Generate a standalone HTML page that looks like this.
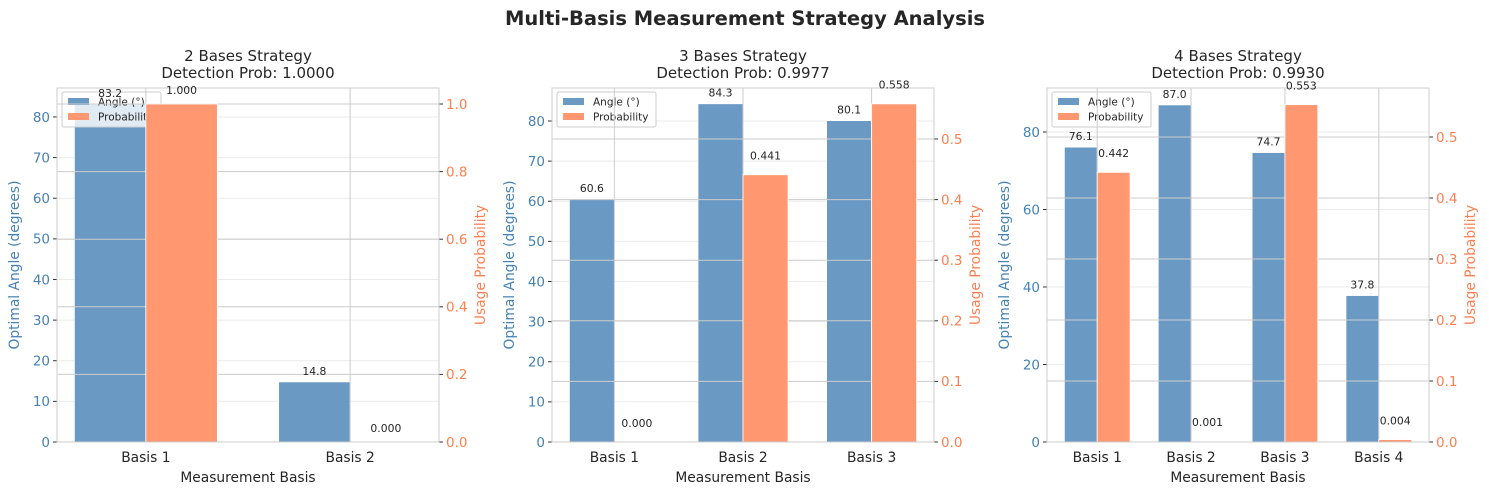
<!DOCTYPE html>
<html><head><meta charset="utf-8"><style>
html,body{margin:0;padding:0;background:#fff;}
svg{display:block;font-family:"DejaVu Sans","Liberation Sans",sans-serif;}
</style></head><body>
<svg id="s" width="1489" height="495" viewBox="0 0 1489 495" xmlns="http://www.w3.org/2000/svg">
<text x="745" y="25" text-anchor="middle" font-size="19.5" font-weight="bold" fill="#262626">Multi-Basis Measurement Strategy Analysis</text>
</svg>
<script>
const S=document.getElementById('s');let h='';
const panels=[
 {x0:57,x1:439,n:2,ang:[83.2,14.8],pr:[1.0,0.0],t1:'2 Bases Strategy',t2:'Detection Prob: 1.0000',lt:[0,10,20,30,40,50,60,70,80],lpu:4.063,rt:[0,0.2,0.4,0.6,0.8,1.0],rpu:338},
 {x0:552,x1:934,n:3,ang:[60.6,84.3,80.1],pr:[0.0,0.441,0.558],t1:'3 Bases Strategy',t2:'Detection Prob: 0.9977',lt:[0,10,20,30,40,50,60,70,80],lpu:4.0125,rt:[0,0.1,0.2,0.3,0.4,0.5],rpu:606},
 {x0:1047,x1:1429,n:4,ang:[76.1,87.0,74.7,37.8],pr:[0.442,0.001,0.553,0.004],t1:'4 Bases Strategy',t2:'Detection Prob: 0.9930',lt:[0,20,40,60,80],lpu:3.875,rt:[0,0.1,0.2,0.3,0.4,0.5],rpu:610}
];
const T=88,B=442;
for(const p of panels){
 const span=(p.n-1+0.7)*1.1;
 const ux=(p.x1-p.x0)/span, X=v=>p.x0+(v-(-0.35-(p.n-1+0.7)*0.05))*ux;
 const bw=0.35*ux;
 const yl=v=>B-v*p.lpu, yr=v=>B-v*p.rpu;
 const cx=(p.x0+p.x1)/2;
 h+=`<text x="${cx}" y="61" text-anchor="middle" font-size="15" fill="#262626">${p.t1}</text>`;
 h+=`<text x="${cx}" y="78" text-anchor="middle" font-size="15" fill="#262626">${p.t2}</text>`;
 for(const t of p.lt){h+=`<line x1="${p.x0}" x2="${p.x1}" y1="${yl(t)}" y2="${yl(t)}" stroke="#ebebeb" stroke-width="1"/>`;
  h+=`<line x1="${p.x0-4}" x2="${p.x0}" y1="${yl(t)}" y2="${yl(t)}" stroke="#333" stroke-width="1"/>`;
  h+=`<text x="${p.x0-7}" y="${yl(t)+4.8}" text-anchor="end" font-size="13.5" fill="#4682b4">${t}</text>`;}
 for(let i=0;i<p.n;i++){const a=p.ang[i];h+=`<rect x="${X(i)-bw}" y="${yl(a)}" width="${bw}" height="${a*p.lpu}" fill="#6a9ac4" stroke="#fff" stroke-width="0.8"/>`;}
 h+=`<rect x="${p.x0+5}" y="92" width="99" height="35" rx="2" fill="#fff" fill-opacity="0.8" stroke="#ccc"/>`;
 h+=`<rect x="${p.x0+11}" y="98" width="21" height="7" fill="#6a9ac4"/><text x="${p.x0+41}" y="105.5" font-size="10.5" fill="#262626">Angle (°)</text>`;
 h+=`<rect x="${p.x0+11}" y="113" width="21" height="7" fill="#ff9870"/><text x="${p.x0+41}" y="120.5" font-size="10.5" fill="#262626">Probability</text>`;
 for(const t of p.rt){h+=`<line x1="${p.x0}" x2="${p.x1}" y1="${yr(t)}" y2="${yr(t)}" stroke="#cccccc" stroke-width="1"/>`;
  h+=`<line x1="${p.x1}" x2="${p.x1+4}" y1="${yr(t)}" y2="${yr(t)}" stroke="#333" stroke-width="1"/>`;
  h+=`<text x="${p.x1+7}" y="${yr(t)+4.8}" font-size="13.5" fill="#ff7f50">${t.toFixed(1)}</text>`;}
 for(let i=0;i<p.n;i++){h+=`<line x1="${X(i)}" x2="${X(i)}" y1="${T}" y2="${B}" stroke="#cccccc" stroke-width="1"/>`;
  h+=`<text x="${X(i)}" y="${B+20}" text-anchor="middle" font-size="13.8" fill="#262626">Basis ${i+1}</text>`;}
 for(let i=0;i<p.n;i++){const v=p.pr[i];h+=`<rect x="${X(i)}" y="${yr(v)}" width="${bw}" height="${v*p.rpu}" fill="#ff9870" stroke="#fff" stroke-width="0.8"/>`;}
 h+=`<rect x="${p.x0}" y="${T}" width="${p.x1-p.x0}" height="${B-T}" fill="none" stroke="#cccccc" stroke-width="1"/>`;
 for(let i=0;i<p.n;i++){
  h+=`<text x="${X(i)-bw/2}" y="${yl(p.ang[i]+1)-3}" text-anchor="middle" font-size="10.8" fill="#262626">${p.ang[i].toFixed(1)}</text>`;
  h+=`<text x="${X(i)+bw/2}" y="${yr(p.pr[i]+0.02)-3}" text-anchor="middle" font-size="10.8" fill="#262626">${p.pr[i].toFixed(3)}</text>`;}
 h+=`<text x="${cx}" y="482" text-anchor="middle" font-size="13.8" fill="#262626">Measurement Basis</text>`;
 h+=`<text transform="translate(${p.x0-38},${(T+B)/2}) rotate(-90)" text-anchor="middle" font-size="13.8" fill="#4682b4">Optimal Angle (degrees)</text>`;
 h+=`<text transform="translate(${p.x1+46},${(T+B)/2}) rotate(-90)" text-anchor="middle" font-size="13.8" fill="#ff7f50">Usage Probability</text>`;
}
S.insertAdjacentHTML('beforeend',h);
</script>
</body></html>
